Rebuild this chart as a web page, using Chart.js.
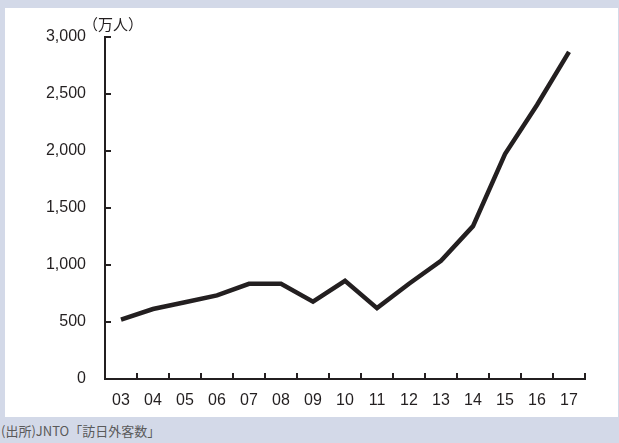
<!DOCTYPE html>
<html>
<head>
<meta charset="utf-8">
<script src="https://cdn.jsdelivr.net/npm/chart.js@4/dist/chart.umd.min.js"></script>
<style>
    body { margin: 0; width: 619px; height: 443px; background: #d3d9e8; position: relative; overflow: hidden; }
    #panel { position: absolute; left: 5px; top: 8px; width: 613px; height: 409px; background: #fff; }
    #source { position: absolute; left: 1px; top: 421px; font: 13px "Noto Sans CJK JP", sans-serif; color: #5a5a5a; white-space: nowrap; }
</style>
</head>
<body>
<div id="panel"><canvas id="visitors-chart" width="613" height="409"></canvas></div>
<div id="source">(出所)JNTO「訪日外客数」</div>
<script>
// visitors to Japan, 10k people
const years = ['03', '04', '05', '06', '07', '08', '09', '10', '11', '12', '13', '14', '15', '16', '17'];
const visitors = [521, 614, 673, 733, 835, 835, 679, 861, 622, 836, 1036, 1341, 1974, 2404, 2869];
const yTicks = [0, 500, 1000, 1500, 2000, 2500, 3000];
const unitLabel = '（万人）';

const INK = '#231f20';
const NUM_FONT = '"Liberation Sans", Arial, sans-serif';
const JP_FONT = '"Noto Sans CJK JP", sans-serif';

// inward tick marks + unit label
const axisDecor = {
    id: 'axisDecor',
    afterDraw(chart) {
        const ctx = chart.ctx;
        const x = chart.scales.x;
        const y = chart.scales.y;
        const area = chart.chartArea;
        ctx.save();
        ctx.strokeStyle = INK;
        ctx.lineWidth = 2;
        ctx.beginPath();
        yTicks.forEach(v => {
            if (v === 0) return;
            const py = Math.round(y.getPixelForValue(v));
            ctx.moveTo(area.left, py);
            ctx.lineTo(area.left + 6, py);
        });
        for (let i = 1; i <= years.length; i++) {
            const px = Math.round((x.getPixelForValue(i - 1) + x.getPixelForValue(i)) / 2);
            const pxr = i === years.length ? area.right : px;
            ctx.moveTo(pxr, area.bottom);
            ctx.lineTo(pxr, area.bottom - 6);
        }
        ctx.stroke();
        ctx.fillStyle = INK;
        ctx.font = '15px ' + JP_FONT;
        ctx.textAlign = 'left';
        ctx.textBaseline = 'middle';
        ctx.fillText(unitLabel, area.left - 22, y.getPixelForValue(3000) - 13);
        ctx.restore();
    }
};

new Chart(document.getElementById('visitors-chart').getContext('2d'), {
    type: 'line',
    data: {
        labels: years,
        datasets: [{
            data: visitors,
            borderColor: INK,
            borderWidth: 4.5,
            pointRadius: 0,
            tension: 0,
            fill: false
        }]
    },
    options: {
        responsive: false,
        animation: false,
        layout: { padding: { top: 29, right: 33, left: 0, bottom: 0 } },
        plugins: {
            legend: { display: false },
            tooltip: { enabled: false }
        },
        scales: {
            x: {
                offset: true,
                grid: { display: false, drawTicks: false },
                border: { color: INK, width: 2 },
                ticks: { color: INK, font: { family: NUM_FONT, size: 16 }, padding: 12 },
                afterFit: s => { s.height = 38; }
            },
            y: {
                min: 0,
                max: 3000,
                afterBuildTicks: s => { s.ticks = yTicks.map(v => ({ value: v })); },
                grid: { display: false, drawTicks: false },
                border: { color: INK, width: 2 },
                ticks: {
                    color: INK,
                    font: { family: NUM_FONT, size: 16 },
                    padding: 19,
                    callback: v => v.toLocaleString('en-US')
                },
                afterFit: s => { s.width = 100; }
            }
        }
    },
    plugins: [axisDecor]
});
</script>
</body>
</html>
